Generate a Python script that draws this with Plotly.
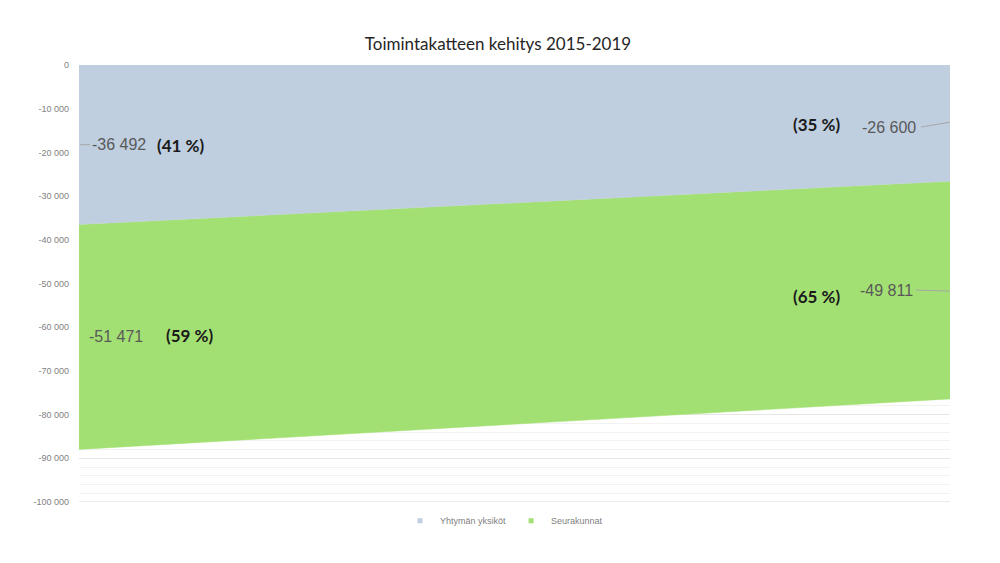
import plotly.graph_objects as go

years = [2015, 2019]
yhtyma = [-36492, -26600]
seurakunnat = [-51471, -49811]
series_names = ["Yhtymän yksiköt", "Seurakunnat"]
tick_vals = [0, -10000, -20000, -30000, -40000, -50000, -60000, -70000, -80000, -90000, -100000]
tick_text = ["0", "-10 000", "-20 000", "-30 000", "-40 000", "-50 000", "-60 000",
             "-70 000", "-80 000", "-90 000", "-100 000"]

BLUE = "#BFCFE0"
GREEN = "#A3E073"

fig = go.Figure()
fig.add_trace(go.Scatter(x=years, y=yhtyma, name=series_names[0], stackgroup="one",
                         mode="lines", line=dict(width=0.5, color=BLUE), fillcolor=BLUE,
                         showlegend=False))
fig.add_trace(go.Scatter(x=years, y=seurakunnat, name=series_names[1], stackgroup="one",
                         mode="lines", line=dict(width=0.5, color=GREEN), fillcolor=GREEN,
                         showlegend=False))
# legend entries with small square markers
for nm, col in zip(series_names, [BLUE, GREEN]):
    fig.add_trace(go.Scatter(x=[None], y=[None], name=nm, mode="markers",
                             marker=dict(symbol="square", size=5, color=col)))

def fmt(v):
    return "-" + f"{abs(v):,}".replace(",", " ")

totals = [a + b for a, b in zip(yhtyma, seurakunnat)]
num_font = dict(family="Liberation Sans, Arial", size=16, color="#595959")
pct_font = dict(family="Lato, Open Sans", size=17, color="#1a1a1a")

annos = []
shapes = []
# bottom gridline at axis edge
shapes.append(dict(type="line", xref="paper", yref="y", x0=0, x1=1,
                   y0=tick_vals[-1], y1=tick_vals[-1], layer="below",
                   line=dict(color="#E6E6E6", width=1.5)))
# left side (2015)
i = 0
mid_b = yhtyma[i] / 2
mid_g = yhtyma[i] + seurakunnat[i] / 2
pb = round(100 * yhtyma[i] / totals[i])
pg = 100 - pb
annos += [
    dict(x=years[i], y=mid_b, text=fmt(yhtyma[i]), xanchor="left", xshift=11, yshift=0, font=num_font),
    dict(x=years[i], y=mid_b, text=f"<b>({pb} %)</b>", xanchor="left", xshift=76, yshift=-1, font=pct_font),
    dict(x=years[i], y=mid_g, text=fmt(seurakunnat[i]), xanchor="left", xshift=8, yshift=0, font=num_font),
    dict(x=years[i], y=mid_g, text=f"<b>({pg} %)</b>", xanchor="left", xshift=85, yshift=1, font=pct_font),
]
shapes.append(dict(type="line", xref="x", yref="y", xsizemode="pixel", xanchor=years[i],
                   x0=1, x1=11, y0=mid_b, y1=mid_b, line=dict(color="#A6A6A6", width=1)))
# right side (2019)
i = 1
mid_b = yhtyma[i] / 2
mid_g = yhtyma[i] + seurakunnat[i] / 2
pb = round(100 * yhtyma[i] / totals[i])
pg = 100 - pb
annos += [
    dict(x=years[i], y=mid_b, text=fmt(yhtyma[i]), xanchor="left", xshift=-90, yshift=-4, font=num_font),
    dict(x=years[i], y=mid_b, text=f"<b>({pb} %)</b>", xanchor="left", xshift=-159, yshift=-1, font=pct_font),
    dict(x=years[i], y=mid_g, text=fmt(seurakunnat[i]), xanchor="left", xshift=-92, yshift=0, font=num_font),
    dict(x=years[i], y=mid_g, text=f"<b>({pg} %)</b>", xanchor="left", xshift=-159, yshift=-6, font=pct_font),
]
shapes.append(dict(type="line", xref="x", yref="y", xsizemode="pixel", xanchor=years[i],
                   ysizemode="pixel", yanchor=mid_b,
                   x0=-29, x1=0, y0=-4, y1=1, line=dict(color="#A6A6A6", width=1)))
shapes.append(dict(type="line", xref="x", yref="y", xsizemode="pixel", xanchor=years[i],
                   ysizemode="pixel", yanchor=mid_g,
                   x0=-34, x1=0, y0=0, y1=-1, line=dict(color="#A6A6A6", width=1)))

for a in annos:
    a["showarrow"] = False
    a["xref"] = "x"
    a["yref"] = "y"

fig.update_layout(
    width=1000, height=563,
    paper_bgcolor="white", plot_bgcolor="white",
    margin=dict(l=71, r=58, t=57, b=69),
    title=dict(text="Toimintakatteen kehitys 2015-2019", x=0.49, xanchor="center",
               y=1 - 36 / 563, yanchor="middle",
               font=dict(family="Lato, Open Sans", size=17, color="#262626")),
    xaxis=dict(range=[years[0], years[-1]], showticklabels=False, showgrid=False,
               zeroline=False, showline=False, ticks=""),
    yaxis=dict(range=[-100000, 0], tickvals=tick_vals, ticktext=tick_text,
               showgrid=True, gridcolor="#E6E6E6", gridwidth=1, zeroline=False,
               tickfont=dict(family="Liberation Sans, Arial", size=9, color="#7F7F7F"),
               ticks="", ticklabelstandoff=9,
               minor=dict(dtick=2000, showgrid=True, gridcolor="#F2F2F2", gridwidth=1)),
    legend=dict(orientation="h", x=0.488, xanchor="center", y=-0.043, yanchor="middle",
                font=dict(family="Liberation Sans, Arial", size=9, color="#7F7F7F"),
                traceorder="normal", itemwidth=30),
    annotations=annos,
    shapes=shapes,
    showlegend=True,
)

fig.write_html("out.html")
